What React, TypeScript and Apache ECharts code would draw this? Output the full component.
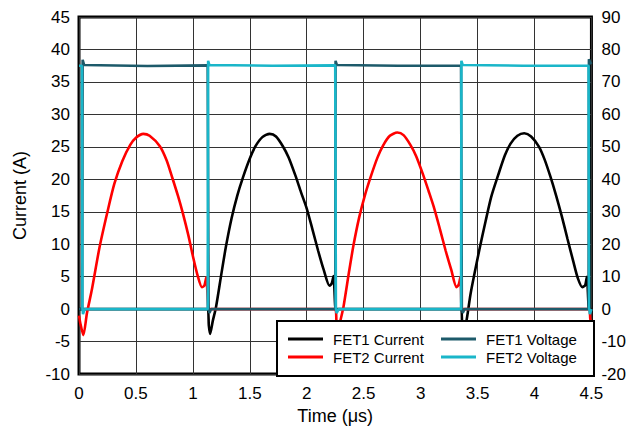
import React, { useEffect, useRef } from "react";
import * as echarts from "echarts";

const FONT = "'Liberation Sans', Arial, sans-serif";

const timeTicks = ["0", "0.5", "1", "1.5", "2", "2.5", "3", "3.5", "4", "4.5"];

// FET1 current (A) – [time µs, current]
const fet1Current: [number, number][] = [
  [0, 0], [1.13, 0], [1.14, -2.5], [1.151, -3.8], [1.175, -1.8], [1.203, 0.3], [1.25, 5.4], [1.29, 9.6],
  [1.34, 14.0], [1.39, 17.5], [1.44, 20.3], [1.5, 23.2], [1.55, 25.1], [1.61, 26.5], [1.675, 27],
  [1.73, 26.6], [1.79, 25.1], [1.84, 23.4], [1.9, 20.6], [1.95, 18], [2.0, 15.5], [2.05, 12.3],
  [2.1, 9], [2.15, 6], [2.2, 3.6], [2.22, 4], [2.235, 5.1], [2.25, 0.5], [2.26, 0],
  [3.355, 0], [3.365, -2.5], [3.378, -3.9], [3.41, -1], [3.44, 2.5], [3.52, 9.5], [3.57, 13.5],
  [3.62, 17.3], [3.68, 20.6], [3.74, 23.7], [3.79, 25.5], [3.85, 26.7], [3.91, 27.1], [3.97, 26.6],
  [4.04, 25], [4.09, 23], [4.14, 20.4], [4.19, 17.5], [4.24, 14.3], [4.29, 10.8], [4.34, 7.4],
  [4.38, 4.8], [4.42, 3.4], [4.445, 3.7], [4.46, 5], [4.475, 0.5], [4.485, 0], [4.5, 0],
];

// FET2 current (A)
const fet2Current: [number, number][] = [
  [0, -1], [0.012, -2.2], [0.038, -4], [0.07, -0.6], [0.114, 3.1], [0.18, 9.5], [0.25, 15],
  [0.31, 19.3], [0.38, 22.8], [0.45, 25.3], [0.5, 26.4], [0.565, 27], [0.62, 26.7], [0.71, 25.1],
  [0.77, 22.9], [0.82, 20.2], [0.87, 17.4], [0.91, 14.9], [0.96, 11.4], [1.0, 8.2], [1.04, 5.3],
  [1.08, 3.4], [1.1, 3.6], [1.118, 4.9], [1.133, 0.5], [1.14, 0],
  [2.25, 0], [2.262, -2.5], [2.272, -3.9], [2.295, -1.8], [2.322, 0.3], [2.37, 5.6], [2.41, 9.8],
  [2.46, 14.1], [2.51, 17.5], [2.56, 20.3], [2.62, 23.3], [2.67, 25.2], [2.73, 26.7], [2.795, 27.2],
  [2.85, 26.8], [2.91, 25.3], [2.96, 23.6], [3.02, 20.8], [3.07, 18.2], [3.12, 15.5], [3.17, 12.3],
  [3.22, 9], [3.27, 6], [3.315, 3.4], [3.335, 3.8], [3.35, 5], [3.358, 0.5], [3.365, 0],
  [4.478, 0], [4.49, -1.5], [4.5, -2.5],
];

// FET1 voltage (V)
const fet1Voltage: [number, number][] = [
  [0, 0], [0.028, 0], [0.032, 76.8], [0.045, 75.2], [0.6, 74.9], [1.13, 75.1], [1.138, 0.5],
  [1.145, -1.2], [1.16, 0], [2.25, 0], [2.253, 76.5], [2.265, 75.2], [2.8, 75], [3.355, 75],
  [3.362, 0.5], [3.37, -1.2], [3.385, 0], [4.475, 0], [4.478, 77], [4.49, 76], [4.5, 75.5],
];

// FET2 voltage (V)
const fet2Voltage: [number, number][] = [
  [0, 75], [0.026, 75], [0.03, 0.5], [0.035, -1.5], [0.05, 0], [1.13, 0], [1.134, 76.5],
  [1.145, 75.2], [1.7, 75], [2.25, 75.1], [2.256, 0.5], [2.262, -1.2], [2.28, 0], [3.355, 0],
  [3.358, 76.5], [3.37, 75.2], [3.9, 75], [4.475, 75], [4.48, 0.5], [4.486, -1.5], [4.5, 0],
];

const seriesNames = ["FET1 Current", "FET2 Current", "FET1 Voltage", "FET2 Voltage"];
const seriesColors = ["#000000", "#ff0000", "#1d5a6a", "#1ab6c9"];

export default function App() {
  const ref = useRef<HTMLDivElement>(null);
  useEffect(() => {
    if (!ref.current) return;
    const chart = echarts.init(ref.current, undefined, { renderer: "svg" });
    const datasets = [fet1Current, fet2Current, fet1Voltage, fet2Voltage];
    const legendText = { fontSize: 15, color: "#000", fontFamily: FONT, lineHeight: 18, padding: [0, 0, 0, 5] };
    const legendCommon = {
      orient: "vertical", top: 330, icon: "rect",
      itemWidth: 35, itemHeight: 3, itemGap: 0, padding: 0, textStyle: legendText, z: 5,
    };
    chart.setOption({
      animation: false,
      textStyle: { fontFamily: FONT },
      grid: {
        left: 79, right: 35, top: 17, bottom: 55,
        show: true, borderColor: "#000", borderWidth: 3, backgroundColor: "#fff",
      },
      xAxis: {
        type: "value", min: 0, max: 4.5, interval: 0.5,
        name: "Time (μs)", nameLocation: "middle", nameGap: 31,
        nameTextStyle: { fontSize: 18, color: "#000", fontFamily: FONT },
        axisLine: { show: false }, axisTick: { show: false },
        axisLabel: {
          fontSize: 17, color: "#000", margin: 11, fontFamily: FONT,
          formatter: (v: number) => timeTicks[Math.round(v / 0.5)] ?? String(v),
        },
        splitLine: { show: true, lineStyle: { color: "#333", width: 1 } },
      },
      yAxis: [
        {
          type: "value", min: -10, max: 45, interval: 5,
          name: "Current (A)", nameLocation: "middle", nameGap: 50, nameRotate: 90,
          nameTextStyle: { fontSize: 18, color: "#000", fontFamily: FONT },
          axisLine: { show: false }, axisTick: { show: false },
          axisLabel: { fontSize: 17, color: "#000", margin: 9, fontFamily: FONT },
          splitLine: { show: true, lineStyle: { color: "#333", width: 1 } },
        },
        {
          type: "value", min: -20, max: 90, interval: 10, position: "right",
          axisLine: { show: false }, axisTick: { show: false },
          axisLabel: { fontSize: 17, color: "#000", margin: 10, fontFamily: FONT },
          splitLine: { show: false },
        },
      ],
      legend: [
        { ...legendCommon, data: ["FET1 Current", "FET2 Current"], left: 288 },
        { ...legendCommon, data: ["FET1 Voltage", "FET2 Voltage"], left: 441 },
      ],
      graphic: [
        {
          type: "rect", z: 3,
          shape: { x: 277, y: 321, width: 317, height: 55 },
          style: { fill: "#fff", stroke: "#000", lineWidth: 2 },
        },
      ],
      series: datasets.map((d, i) => ({
        name: seriesNames[i],
        type: "line",
        yAxisIndex: i < 2 ? 0 : 1,
        data: d,
        symbol: "none",
        smooth: i < 2 ? 0.25 : false,
        color: seriesColors[i],
        itemStyle: { color: seriesColors[i] },
        lineStyle: { color: seriesColors[i], width: 2.6 },
        z: 2,
      })),
    });
    return () => chart.dispose();
  }, []);
  return <div ref={ref} style={{ width: 629, height: 430, position: "absolute", left: 0, top: 0 }} />;
}
